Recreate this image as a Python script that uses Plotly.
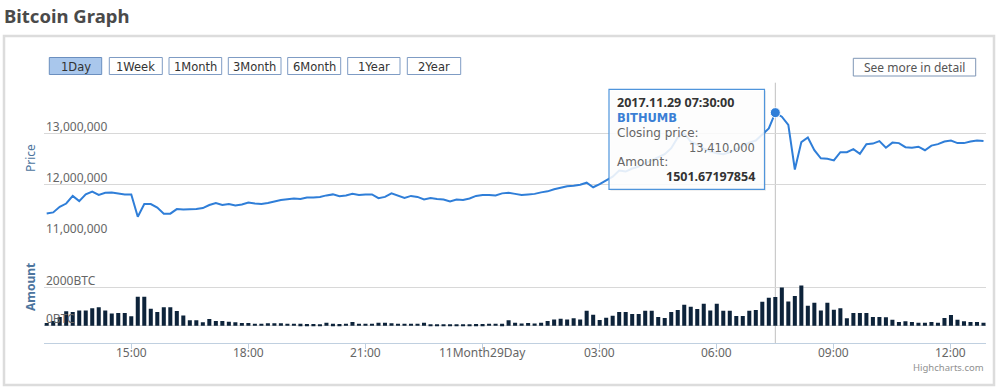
import pandas as pd
import plotly.graph_objects as go

# ---------------- data ----------------
start_time = "2017-11-28 12:50"
n_points = 145
times = pd.date_range(start_time, periods=n_points, freq="10min")

price = [
    11425000, 11445000, 11555000, 11620000, 11770000, 11667000, 11800000, 11857000, 11790000, 11830000,
    11837000, 11820000, 11800000, 11800000, 11360000, 11610000, 11610000, 11540000, 11420000, 11420000,
    11510000, 11500000, 11500000, 11510000, 11530000, 11590000, 11630000, 11590000, 11610000, 11580000,
    11600000, 11640000, 11620000, 11610000, 11630000, 11667000, 11690000, 11706000, 11720000, 11710000,
    11740000, 11740000, 11750000, 11780000, 11800000, 11765000, 11780000, 11810000, 11790000, 11800000,
    11800000, 11725000, 11750000, 11820000, 11780000, 11730000, 11770000, 11750000, 11700000, 11730000,
    11710000, 11700000, 11660000, 11700000, 11690000, 11720000, 11770000, 11790000, 11790000, 11780000,
    11820000, 11830000, 11810000, 11790000, 11800000, 11810000, 11840000, 11860000, 11900000, 11935000,
    11960000, 11970000, 11990000, 12030000, 11940000, 12000000, 12070000, 12150000, 12270000, 12250000,
    12310000, 12350000, 12410000, 12470000, 12530000, 12590000, 12710000, 12920000, 13000000, 12840000,
    12780000, 12700000, 12650000, 12610000, 12590000, 12630000, 12690000, 12760000, 12820000, 12860000,
    12980000, 13100000, 13410000, 13330000, 13170000, 12290000, 12830000, 12920000, 12670000, 12510000,
    12500000, 12470000, 12630000, 12630000, 12690000, 12600000, 12790000, 12800000, 12850000, 12720000,
    12820000, 12810000, 12730000, 12720000, 12740000, 12670000, 12760000, 12790000, 12840000, 12860000,
    12810000, 12810000, 12840000, 12860000, 12850000,
]

amount = [
    141, 250, 460, 760, 725, 796, 796, 920, 972, 796,
    636, 672, 672, 495, 1520, 1520, 884, 725, 972, 972,
    778, 530, 283, 283, 177, 354, 247, 247, 212, 177,
    140, 140, 110, 110, 130, 130, 130, 110, 110, 100,
    90, 90, 80, 160, 100, 90, 110, 195, 110, 110,
    110, 160, 160, 130, 110, 110, 110, 110, 160, 80,
    80, 80, 80, 80, 80, 80, 90, 90, 110, 110,
    100, 283, 160, 120, 140, 120, 160, 250, 330, 360,
    330, 390, 330, 780, 580, 300, 420, 520, 720, 720,
    620, 620, 780, 780, 460, 400, 720, 830, 1100, 1000,
    880, 1150, 800, 1150, 780, 780, 510, 510, 780, 830,
    1250, 1470, 1501.67197854, 2000, 1273, 1556, 2104, 1043, 1202, 796,
    1202, 831, 919, 389, 672, 672, 672, 460, 460, 440,
    318, 194, 230, 194, 159, 159, 194, 159, 407, 566,
    318, 230, 194, 194, 159,
]

x_tick_times = ["2017-11-28 15:00", "2017-11-28 18:00", "2017-11-28 21:00", "2017-11-29 00:00",
                "2017-11-29 03:00", "2017-11-29 06:00", "2017-11-29 09:00", "2017-11-29 12:00"]
x_tick_labels = ["15:00", "18:00", "21:00", "11Month29Day", "03:00", "06:00", "09:00", "12:00"]

price_ticks = [11000000, 12000000, 13000000, 14000000]
price_tick_labels = ["11,000,000", "12,000,000", "13,000,000", ""]
amount_ticks = [0, 2000, 4000]
amount_tick_labels = ["0BTC", "2000BTC", ""]

range_buttons = ["1Day", "1Week", "1Month", "3Month", "6Month", "1Year", "2Year"]
hover_index = 112
hover_time_label = "2017.11.29 07:30:00"
exchange_name = "BITHUMB"
hover_price_text = "13,410,000"
hover_amount_text = "1501.67197854"

# ---------------- helpers ----------------
W, H = 1000, 390
def px(x):
    return x / W
def py(y):
    return 1 - y / H

LINE_COLOR = "#2f7ed8"
BAR_COLOR = "#0d233a"
GRID = "#d8d8d8"
LABEL = "#666666"
FONT = "Noto Sans"
TIP_FONT = "DejaVu Sans"

fig = go.Figure()
fig.add_trace(go.Scatter(
    x=times, y=price, mode="lines", line=dict(color=LINE_COLOR, width=2),
    xaxis="x", yaxis="y", hoverinfo="skip", showlegend=False))
fig.add_trace(go.Scatter(
    x=[times[hover_index]], y=[price[hover_index]], mode="markers",
    marker=dict(color=LINE_COLOR, size=10, line=dict(color="white", width=1)),
    xaxis="x", yaxis="y", hoverinfo="skip", showlegend=False))
fig.add_trace(go.Bar(
    x=times, y=amount, marker=dict(color=BAR_COLOR, line=dict(width=0)),
    xaxis="x2", yaxis="y2", hoverinfo="skip", showlegend=False))

x_range = [pd.Timestamp("2017-11-28 12:45:51"), pd.Timestamp("2017-11-29 12:53:51")]

fig.update_layout(
    width=W, height=H, margin=dict(l=0, r=0, t=0, b=0),
    paper_bgcolor="white", plot_bgcolor="white",
    bargap=0.38,
    font=dict(family=FONT, size=12, color=LABEL),
    xaxis=dict(domain=[px(44), px(986)], range=x_range, anchor="y",
               showticklabels=False, showgrid=False, zeroline=False, showline=False, ticks=""),
    xaxis2=dict(domain=[px(44), px(986)], range=x_range, anchor="y2", matches="x",
                tickmode="array", tickvals=x_tick_times, showticklabels=False,
                showgrid=False, zeroline=False, showline=True, linecolor="#c0d0e0", linewidth=1,
                ticks="outside", ticklen=5, tickcolor="#c0d0e0"),
    yaxis=dict(domain=[py(235), py(82.7)], range=[11000000, 14000000], anchor="x",
               tickmode="array", tickvals=price_ticks, showticklabels=False,
               showgrid=True, gridcolor=GRID, gridwidth=1,
               zeroline=False, showline=False, ticks=""),
    yaxis2=dict(domain=[py(343.3), py(249.3)], range=[-918, 4000], anchor="x2",
                tickmode="array", tickvals=amount_ticks, showticklabels=False,
                showgrid=True, gridcolor=GRID, gridwidth=1,
                zeroline=False, showline=False, ticks=""),
)

shapes = []
annotations = []

# axis tick labels (Highcharts style: above the grid lines, inside the plot)
for v, t in zip(price_ticks, price_tick_labels):
    if t:
        annotations.append(dict(text=t, xref="paper", yref="y", x=px(44), y=v, yshift=7,
                                xanchor="left", yanchor="middle", showarrow=False,
                                font=dict(family=FONT, size=12, color=LABEL)))
for v, t in zip(amount_ticks, amount_tick_labels):
    if t:
        annotations.append(dict(text=t, xref="paper", yref="y2", x=px(44), y=v, yshift=7,
                                xanchor="left", yanchor="middle", showarrow=False,
                                font=dict(family=FONT, size=12, color=LABEL)))
for v, t in zip(x_tick_times, x_tick_labels):
    annotations.append(dict(text=t, xref="x2", yref="paper", x=v, y=py(352.5),
                            xanchor="center", yanchor="middle", showarrow=False,
                            font=dict(family=FONT, size=12, color=LABEL)))

# outer container border
shapes.append(dict(type="rect", xref="paper", yref="paper", x0=px(4), x1=px(994), y0=py(385), y1=py(36),
                   line=dict(color="#dcdcdc", width=2.5), fillcolor="rgba(0,0,0,0)", layer="below"))

# crosshair
shapes.append(dict(type="line", xref="x", yref="paper", x0=times[hover_index], x1=times[hover_index],
                   y0=py(343.3), y1=py(82.7), line=dict(color="#c0c0c0", width=1), layer="below"))

# title
annotations.append(dict(text="<b>Bitcoin Graph</b>", xref="paper", yref="paper", x=px(2), y=py(16),
                        xanchor="left", yanchor="middle", showarrow=False,
                        font=dict(family=FONT, size=18.5, color="#4a4a4a")))

# range selector buttons
btn_x = [(49.3, 101.7), (109.3, 162.3), (169, 221.7), (228.3, 281), (287.7, 340.7), (347.7, 400), (407.3, 460.7)]
for i, (lab, (a, b)) in enumerate(zip(range_buttons, btn_x)):
    sel = i == 0
    shapes.append(dict(type="rect", xref="paper", yref="paper", x0=px(a), x1=px(b), y0=py(74.5), y1=py(57.5),
                       line=dict(color="#7f9cc4" if not sel else "#6b8fbf", width=1),
                       fillcolor="#a9c7ec" if sel else "white"))
    annotations.append(dict(text=lab, xref="paper", yref="paper", x=px((a + b) / 2), y=py(66.5),
                            xanchor="center", yanchor="middle", showarrow=False,
                            font=dict(family="DejaVu Sans", size=11.5, color="#333333")))

# See more in detail
shapes.append(dict(type="rect", xref="paper", yref="paper", x0=px(853.3), x1=px(975.7), y0=py(76), y1=py(58.3),
                   line=dict(color="#7f96b6", width=1), fillcolor="white"))
annotations.append(dict(text="See more in detail", xref="paper", yref="paper", x=px(914.5), y=py(67.5),
                        xanchor="center", yanchor="middle", showarrow=False,
                        font=dict(family=FONT, size=12, color="#555555")))

# axis titles
annotations.append(dict(text="Price", xref="paper", yref="paper", x=px(30), y=py(158), textangle=-90,
                        xanchor="center", yanchor="middle", showarrow=False,
                        font=dict(family=FONT, size=12, color="#4d759e")))
annotations.append(dict(text="<b>Amount</b>", xref="paper", yref="paper", x=px(30), y=py(287), textangle=-90,
                        xanchor="center", yanchor="middle", showarrow=False,
                        font=dict(family=FONT, size=12, color="#4d759e")))

# tooltip box
tx0, tx1, ty0, ty1 = 609, 764.5, 89.3, 189.3
shapes.append(dict(type="rect", xref="paper", yref="paper", x0=px(tx0 + 1.5), x1=px(tx1 + 1.5),
                   y0=py(ty1 + 1.5), y1=py(ty0 + 1.5),
                   line=dict(width=0), fillcolor="rgba(0,0,0,0.08)", layer="above"))
shapes.append(dict(type="rect", xref="paper", yref="paper", x0=px(tx0), x1=px(tx1), y0=py(ty1), y1=py(ty0),
                   line=dict(color="#4f95dc", width=1.2), fillcolor="rgba(255,255,255,0.87)", layer="above"))

def tip(text, x, y, anchor, family, size, color):
    annotations.append(dict(text=text, xref="paper", yref="paper", x=px(x), y=py(y),
                            xanchor=anchor, yanchor="middle", showarrow=False, borderpad=0,
                            font=dict(family=family, size=size, color=color)))

tip("<b>" + hover_time_label + "</b>", 616, 102.5, "left", FONT, 12.5, "#333333")
tip("<b>" + exchange_name + "</b>", 616, 118, "left", TIP_FONT, 11.5, "#3a7fd5")
tip("Closing price:", 616, 133, "left", TIP_FONT, 12, "#666666")
tip(hover_price_text, 755.5, 147.5, "right", TIP_FONT, 11.5, "#666666")
tip("Amount:", 616, 161.5, "left", TIP_FONT, 12, "#666666")
tip("<b>" + hover_amount_text + "</b>", 755.5, 177, "right", FONT, 12.5, "#333333")

# credits
annotations.append(dict(text="Highcharts.com", xref="paper", yref="paper", x=px(986), y=py(367),
                        xanchor="right", yanchor="middle", showarrow=False,
                        font=dict(family=FONT, size=9.5, color="#909090")))

fig.update_layout(shapes=shapes, annotations=annotations)
fig.write_html("out.html", config={"displayModeBar": False},
               post_script="document.body.style.margin='0';document.body.style.overflow='hidden';")
